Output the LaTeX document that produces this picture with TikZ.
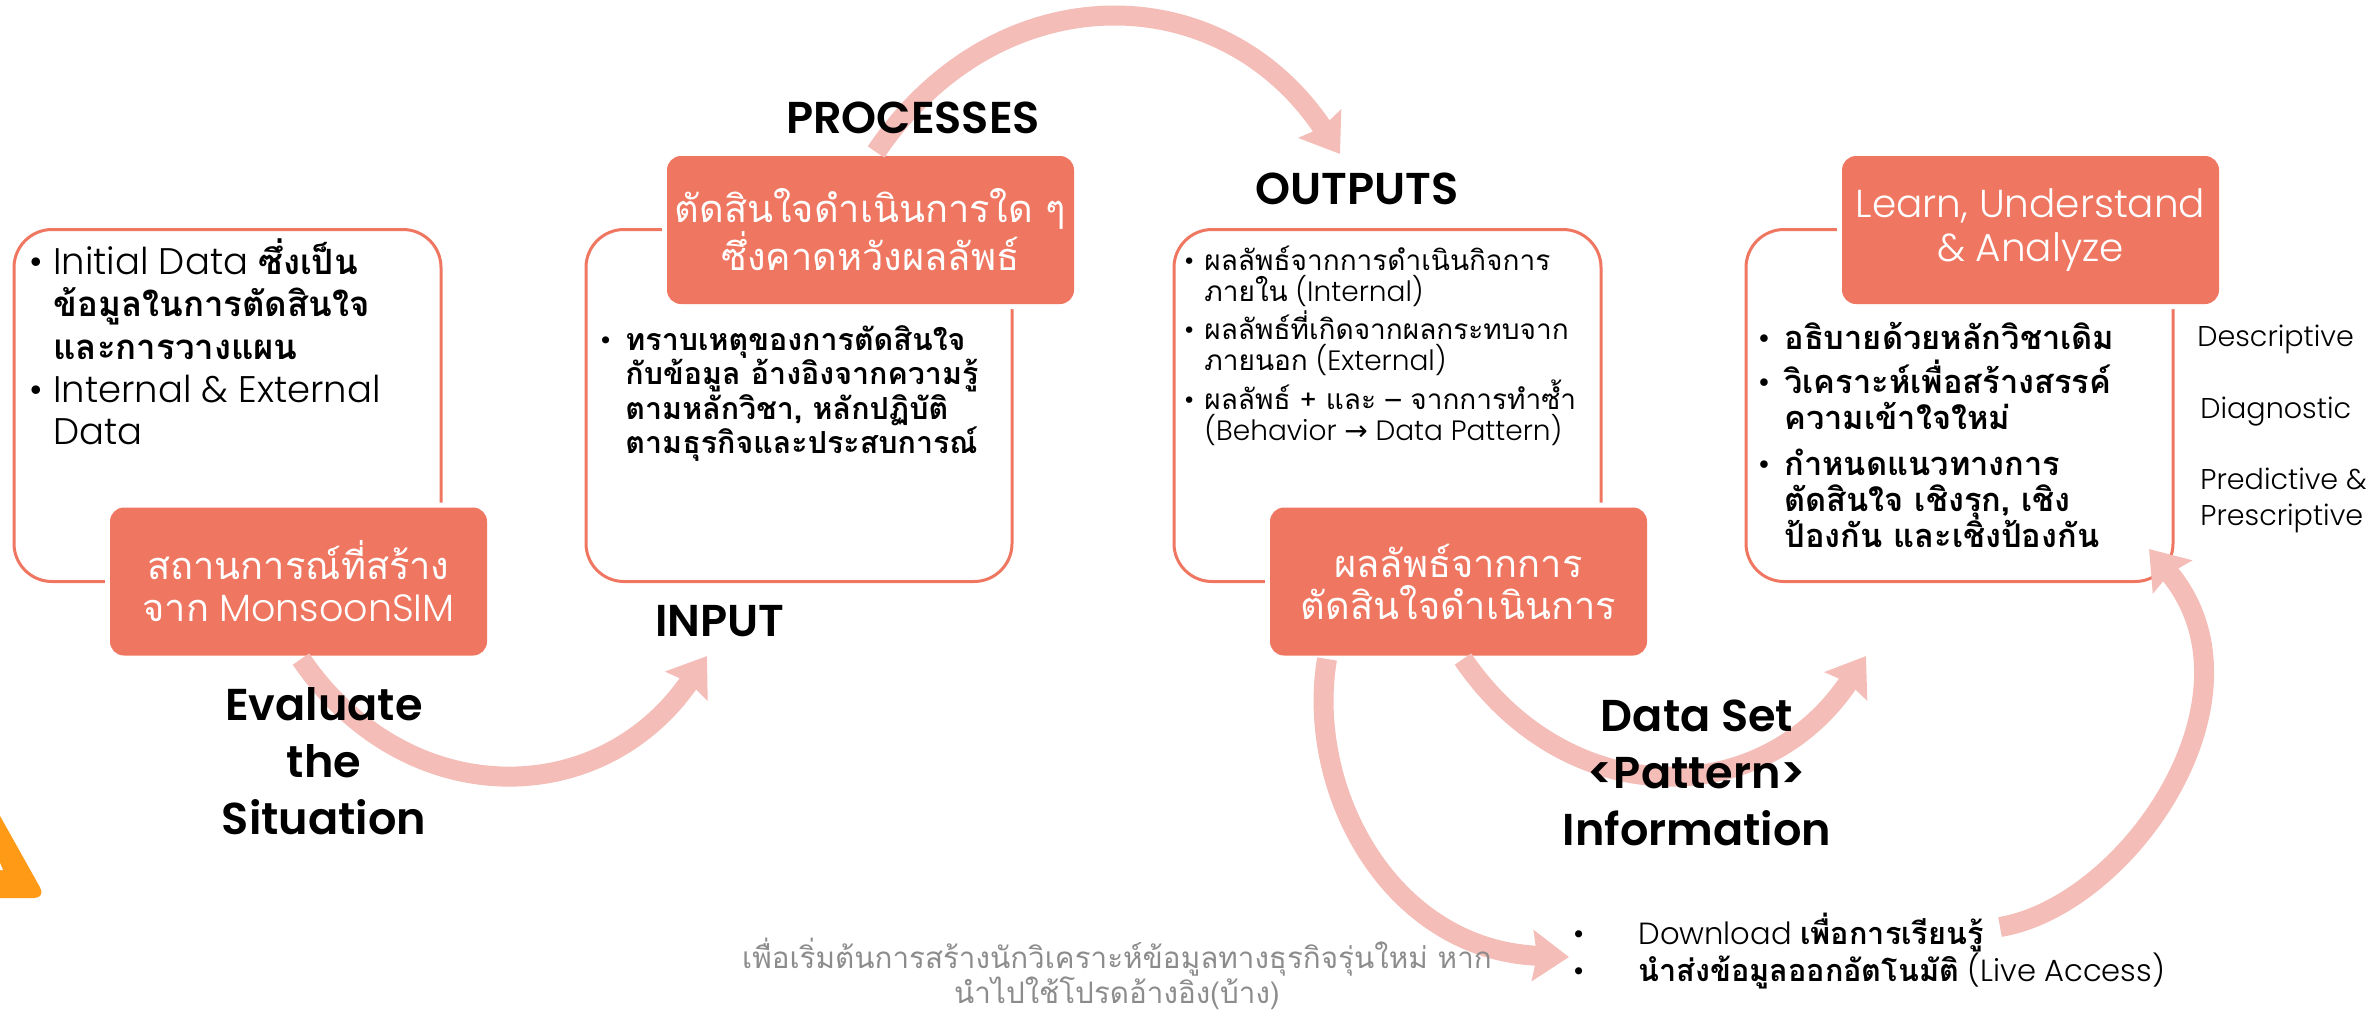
\documentclass[tikz,border=0pt]{standalone}
\usepackage{fontspec}
\usetikzlibrary{arrows.meta}
\setmainfont{Poppins Light}[BoldFont={Poppins SemiBold}]
\newfontfamily\thaifont[Script=Thai]{Loma}
\newfontfamily\symfont{DejaVu Sans}
\newcommand{\thx}[1]{{\thaifont #1}}
\newcommand{\thb}[1]{{\thaifont\fontsize{17.4pt}{21.3pt}\selectfont\bfseries #1}}
\newcommand{\bul}{\llap{•\hspace{5pt}}}
\definecolor{redbox}{HTML}{EF7660}
\definecolor{pinkflow}{HTML}{F4BDB8}
\definecolor{orangetri}{HTML}{FF9A17}
\tikzset{
  x=0.5pt,y=-0.5pt,
  outerbox/.style={draw=redbox,line width=1.5pt,rounded corners=19pt,fill=white,minimum width=#1*0.5pt,minimum height=176pt,inner sep=0pt},
  titlebox/.style={fill=redbox,rounded corners=7pt,preaction={draw=white,line width=5pt},minimum width=#1*0.5pt,minimum height=74pt,inner sep=0pt,text=white,align=center,font=\fontsize{19pt}{21pt}\selectfont},
  flow/.style={draw=pinkflow,line width=10pt,-{Stealth[length=18pt,width=25pt,inset=2pt]}},
  body/.style={anchor=north west,align=left,inner sep=0pt,text=black},
  heading/.style={font=\bfseries\fontsize{22.3pt}{28.5pt}\selectfont,align=center,inner sep=0pt,text=black},
  side/.style={anchor=west,align=left,inner sep=0pt,text=black,font=\fontsize{14.3pt}{18pt}\selectfont},
}
\begin{document}
\begin{tikzpicture}
\useasboundingbox (0,0) rectangle (2376,1009);
% orange corner shape
\fill[orangetri,rounded corners=6pt] (-40,898) -- (-10,798) -- (46,898) -- cycle;
\fill[white] (0,863) -- (3,870) -- (0,870) -- cycle;
% outlines
\node[outerbox=427] (b1) at (227.5,405.5) {};
\node[outerbox=426] (b2) at (799,405.5) {};
\node[outerbox=427] (b3) at (1387.5,405.5) {};
\node[outerbox=427] (b4) at (1959.5,405.5) {};
% title boxes
\node[titlebox=377] (r1) at (298.5,581.5) {\thx{สถานการณ์ที่สร้าง}\\\thx{จาก} MonsoonSIM};
\node[titlebox=407] (r2) at (870.5,230) {\thx{ตัดสินใจดำเนินการใด ๆ}\\\thx{ซึ่งคาดหวังผลลัพธ์}};
\node[titlebox=377] (r3) at (1458.5,581.5) {\thx{ผลลัพธ์จากการ}\\\thx{ตัดสินใจดำเนินการ}};
\node[titlebox=377,font=\fontsize{19.5pt}{22pt}\selectfont] (r4) at (2030.5,230) {Learn, Understand\\\& Analyze};
% anchors of the flows
\coordinate (s1) at (301,659);
\coordinate (e1) at (707,656);
\coordinate (s2) at (876,152);
\coordinate (e2) at (1340,154);
\coordinate (s3) at (1463,659);
\coordinate (e3) at (1866,656);
\coordinate (s4) at (1327,659);
\coordinate (e4) at (1569,957);
\coordinate (s5) at (2000,927);
\coordinate (e5) at (2149,549);
% flows
\draw[flow] (s1) .. controls (405,812) and (600,812) .. (e1);
\draw[flow] (s2) .. controls (996,-26) and (1220,-26) .. (e2);
\draw[flow] (s3) .. controls (1567,812) and (1762,812) .. (e3);
\draw[flow] (s4) .. controls (1305,790) and (1390,950) .. (e4);
\draw[flow] (s5) .. controls (2130,905) and (2272,695) .. (e5);
% box texts
\node[body,font=\fontsize{18.5pt}{21.3pt}\selectfont] (t1) at (53,238) {\bul Initial Data \thb{ซึ่งเป็น}\\\thb{ข้อมูลในการตัดสินใจ}\\\thb{และการวางแผน}\\\bul Internal \& External\\Data};
\node[body,font=\fontsize{15.2pt}{17.2pt}\selectfont] (t2) at (625,325) {\llap{•\hspace{7pt}}\thx{\bfseries ทราบเหตุของการตัดสินใจ}\\\thx{\bfseries กับข้อมูล อ้างอิงจากความรู้}\\\thx{\bfseries ตามหลักวิชา, หลักปฏิบัติ}\\\thx{\bfseries ตามธุรกิจและประสบการณ์}};
\node[body,font=\fontsize{14pt}{15.5pt}\selectfont] (t3) at (1204,246) {\bul\thx{ผลลัพธ์จากการดำเนินกิจการ}\\\thx{ภายใน} (Internal)\\[1pt]\bul\thx{ผลลัพธ์ที่เกิดจากผลกระทบจาก}\\\thx{ภายนอก} (External)\\[1pt]\bul\thx{ผลลัพธ์ + และ – จากการทำซ้ำ}\\(Behavior {\symfont →} Data Pattern)};
\node[body,font=\fontsize{16.3pt}{18pt}\selectfont] (t4) at (1784,322) {\llap{•\hspace{7pt}}\thx{\bfseries อธิบายด้วยหลักวิชาเดิม}\\[4pt]\llap{•\hspace{7pt}}\thx{\bfseries วิเคราะห์เพื่อสร้างสรรค์}\\\thx{\bfseries ความเข้าใจใหม่}\\[5pt]\llap{•\hspace{7pt}}\thx{\bfseries กำหนดแนวทางการ}\\\thx{\bfseries ตัดสินใจ เชิงรุก, เชิง}\\\thx{\bfseries ป้องกัน และเชิงป้องกัน}};
% headings
\node[heading] (h1) at (324,761) {Evaluate\\the\\Situation};
\node[heading] (h2) at (720,621) {INPUT};
\node[heading] (h3) at (913,118) {PROCESSES};
\node[heading] (h4) at (1357,189) {OUTPUTS};
\node[heading] (h5) at (1697,773) {Data Set\\<Pattern>\\Information};
% side labels
\node[side] (l1) at (2197,339) {Descriptive};
\node[side] (l2) at (2200,412) {Diagnostic};
\node[side] (l3) at (2200,500) {Predictive \&\\Prescriptive};
% footer
\node[inner sep=0pt,align=center,text=gray!90,font=\fontsize{14.8pt}{17.5pt}\selectfont] (f1) at (1117,974) {\thx{เพื่อเริ่มต้นการสร้างนักวิเคราะห์ข้อมูลทางธุรกิจรุ่นใหม่ หาก}\\\thx{นำไปใช้โปรดอ้างอิง(บ้าง)}};
\node[body,anchor=west,font=\fontsize{15.3pt}{18.5pt}\selectfont] (f2) at (1638,951) {\llap{•\hspace{27pt}}Download \thx{\bfseries เพื่อการเรียนรู้}\\\llap{•\hspace{27pt}}\thx{\bfseries นำส่งข้อมูลออกอัตโนมัติ} (Live Access)};
\end{tikzpicture}
\end{document}
